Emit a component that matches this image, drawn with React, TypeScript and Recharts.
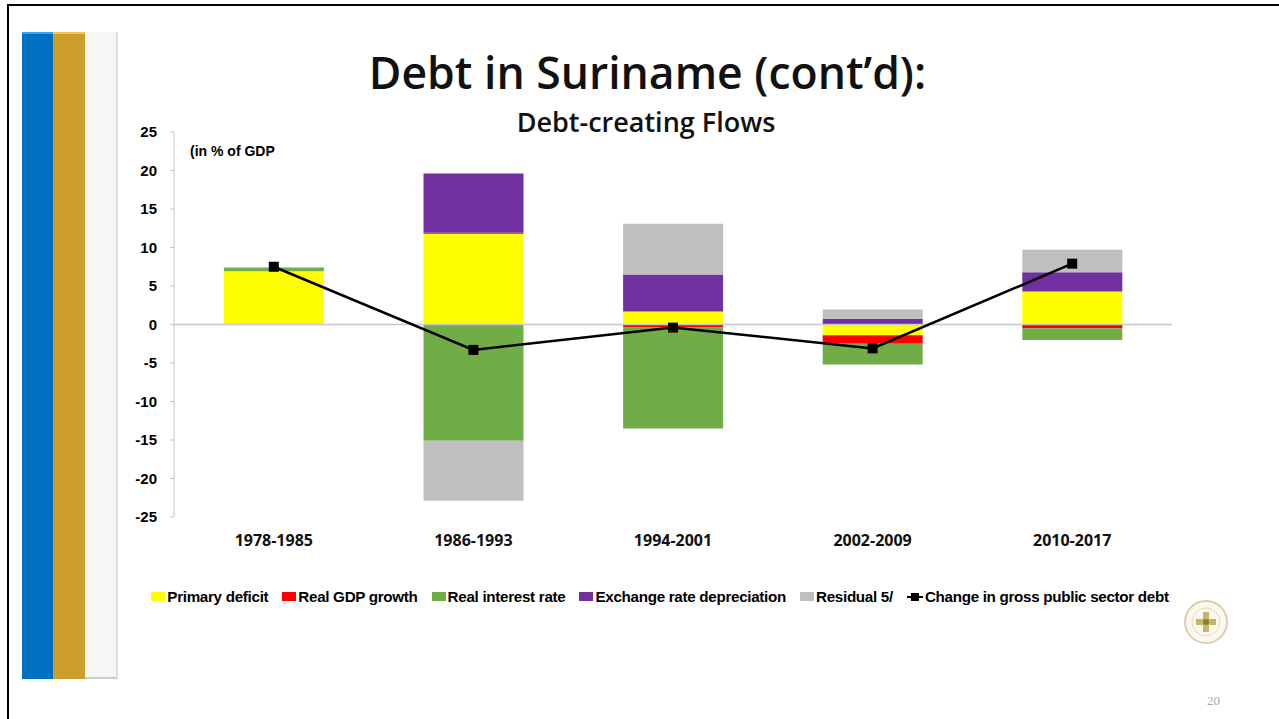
import React from "react";
import {
  ComposedChart,
  Bar,
  Line,
  XAxis,
  YAxis,
  ReferenceLine,
} from "recharts";

const periods = ["1978-1985", "1986-1993", "1994-2001", "2002-2009", "2010-2017"];
const primaryDeficit = [6.9, 11.8, 1.7, -1.4, 4.3];
const realGdpGrowth = [0, 0.1, -0.4, -1.1, -0.5];
const realInterestRate = [0.5, -15.1, -13.1, -2.7, -1.5];
const exchangeRateDep = [0, 7.7, 4.8, 0.75, 2.5];
const residual = [0, -7.8, 6.6, 1.2, 2.9];
const debtChange = [7.5, -3.3, -0.4, -3.1, 7.9];
const yTicks = [25, 20, 15, 10, 5, 0, -5, -10, -15, -20, -25];

const data = periods.map((p, i) => ({
  period: p,
  primary: primaryDeficit[i],
  gdp: realGdpGrowth[i],
  interest: realInterestRate[i],
  exchange: exchangeRateDep[i],
  residual: residual[i],
  debt: debtChange[i],
}));

const legendItems = [
  { name: "Primary deficit", color: "#FFFF00", type: "bar" },
  { name: "Real GDP growth", color: "#FF0000", type: "bar" },
  { name: "Real interest rate", color: "#70AD47", type: "bar" },
  { name: "Exchange rate depreciation", color: "#7030A0", type: "bar" },
  { name: "Residual 5/", color: "#BFBFBF", type: "bar" },
  { name: "Change in gross public sector debt", color: "#000000", type: "line" },
];

const SquareDot = (props: any) => {
  const { cx, cy } = props;
  if (cx == null || cy == null) return null;
  return <rect x={cx - 5} y={cy - 5} width={10} height={10} fill="#000" />;
};

// legend drawn outside the chart so it doesn't eat plot height
const ChartLegend = () => (
  <div
    style={{
      position: "absolute",
      top: 588,
      left: 0,
      width: 1320,
      display: "flex",
      justifyContent: "center",
      gap: 14,
      fontFamily: "'Liberation Sans', Arial, sans-serif",
      fontWeight: 700,
      fontSize: 15.2,
      color: "#000",
      letterSpacing: -0.3,
    }}
  >
    {legendItems.map((it) => (
      <div key={it.name} style={{ display: "flex", alignItems: "center" }}>
        {it.type === "bar" ? (
          <span
            style={{
              display: "inline-block",
              width: 14,
              height: 9,
              background: it.color,
              marginRight: 2,
            }}
          />
        ) : (
          <svg width={16} height={10} style={{ marginRight: 2 }}>
            <line x1={0} y1={5} x2={16} y2={5} stroke="#000" strokeWidth={2} />
            <rect x={4} y={1} width={8} height={8} fill="#000" />
          </svg>
        )}
        <span>{it.name}</span>
      </div>
    ))}
  </div>
);

export default function App() {
  return (
    <div
      style={{
        position: "absolute",
        left: 0,
        top: 0,
        width: 1279,
        height: 719,
        background: "#fff",
        overflow: "hidden",
      }}
    >
      {/* frame */}
      <div
        style={{
          position: "absolute",
          left: 7,
          top: 4,
          width: 1290,
          height: 730,
          borderLeft: "2px solid #000",
          borderTop: "2px solid #000",
        }}
      />
      {/* left stripes */}
      <div style={{ position: "absolute", left: 22, top: 32, width: 31, height: 645, background: "#0070C0", borderTop: "2px solid #3AA0F0" }} />
      <div style={{ position: "absolute", left: 53, top: 32, width: 32, height: 645, background: "#CC9E2C", borderTop: "2px solid #F2C94A" }} />
      <div style={{ position: "absolute", left: 85, top: 32, width: 31, height: 645, background: "#F6F6F6", borderRight: "2px solid #DDDDDD", borderBottom: "2px solid #CCCCCC" }} />

      {/* titles */}
      <div
        style={{
          position: "absolute",
          left: 0,
          width: 1295,
          top: 48,
          lineHeight: "48px",
          textAlign: "center",
          fontFamily: "'Open Sans', sans-serif",
          fontWeight: 600,
          fontSize: 44.5,
          color: "#111",
        }}
      >
        Debt in Suriname (cont’d):
      </div>
      <div
        style={{
          position: "absolute",
          left: 0,
          width: 1292,
          top: 107,
          lineHeight: "30px",
          textAlign: "center",
          fontFamily: "'Open Sans', sans-serif",
          fontWeight: 600,
          fontSize: 27,
          color: "#111",
        }}
      >
        Debt-creating Flows
      </div>
      <div
        style={{
          position: "absolute",
          left: 190,
          top: 143,
          fontFamily: "'Liberation Sans', Arial, sans-serif",
          fontWeight: 700,
          fontSize: 14,
          color: "#000",
        }}
      >
        (in % of GDP
      </div>

      <div style={{ position: "absolute", left: 0, top: 0 }}>
        <ComposedChart
          width={1279}
          height={719}
          data={data}
          stackOffset="sign"
          barCategoryGap="25%"
          margin={{ top: 132, right: 107, bottom: 172, left: 0 }}
        >
          <XAxis
            dataKey="period"
            axisLine={false}
            tickLine={false}
            tickSize={0}
            tickMargin={18}
            height={30}
            interval={0}
            tick={{
              fill: "#111",
              fontSize: 16,
              fontWeight: 700,
              fontFamily: "'Open Sans', sans-serif",
            }}
          />
          <YAxis
            domain={[-25, 25]}
            ticks={yTicks}
            interval={0}
            width={174}
            axisLine={{ stroke: "#C8C8C8" }}
            tickLine={{ stroke: "#C8C8C8" }}
            tickSize={4}
            tickMargin={13}
            tick={{
              fill: "#000",
              fontSize: 15,
              fontWeight: 700,
              fontFamily: "'Liberation Sans', Arial, sans-serif",
            }}
          />
          <ReferenceLine y={0} stroke="#C8C8C8" strokeWidth={1.5} />
          <Bar dataKey="primary" stackId="a" fill="#FFFF00" isAnimationActive={false} />
          <Bar dataKey="gdp" stackId="a" fill="#FF0000" isAnimationActive={false} />
          <Bar dataKey="interest" stackId="a" fill="#70AD47" isAnimationActive={false} />
          <Bar dataKey="exchange" stackId="a" fill="#7030A0" isAnimationActive={false} />
          <Bar dataKey="residual" stackId="a" fill="#BFBFBF" isAnimationActive={false} />
          <Line
            dataKey="debt"
            stroke="#000"
            strokeWidth={2.5}
            dot={<SquareDot />}
            activeDot={false}
            isAnimationActive={false}
          />
        </ComposedChart>
      </div>

      <ChartLegend />

      {/* seal */}
      <svg style={{ position: "absolute", left: 1183, top: 599 }} width={46} height={46}>
        <circle cx={23} cy={23} r={21} fill="#FBF8EE" stroke="#D9CFAE" strokeWidth={2} />
        <circle cx={23} cy={23} r={14} fill="none" stroke="#E6DDC0" strokeWidth={1} />
        <rect x={20} y={13} width={6} height={20} fill="#C9B468" />
        <rect x={13} y={20} width={20} height={6} fill="#C9B468" />
        <circle cx={23} cy={23} r={3} fill="#8A7A3A" />
      </svg>
      <div
        style={{
          position: "absolute",
          left: 1207,
          top: 693,
          fontFamily: "'Liberation Serif', serif",
          fontSize: 13,
          color: "#AAAAAA",
        }}
      >
        20
      </div>
    </div>
  );
}
